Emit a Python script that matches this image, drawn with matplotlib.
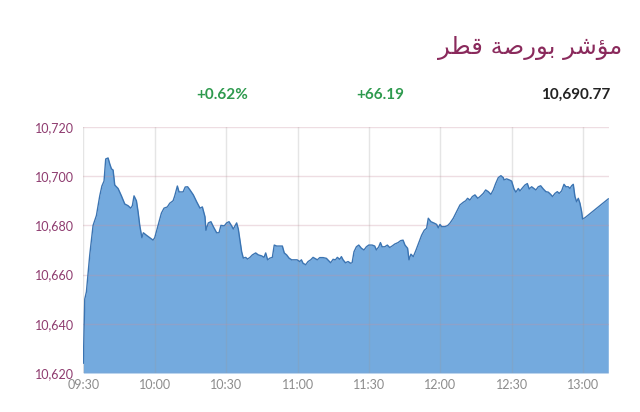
import matplotlib.pyplot as plt

# minutes since 09:30 and index level
minutes = [0, 0.6, 1.3, 2.7, 4.1, 5.5, 6.9, 7.8, 8.7, 9.4, 10.4, 11.1, 11.8, 12.5,
           13.2, 14.6, 16.0, 17.4, 18.8, 19.9, 20.6, 21.3, 22.3, 23.0, 23.7, 24.6,
           25.2, 26.5, 27.9, 29.3, 30.0, 31.4, 32.8, 33.9, 35.3, 36.3, 37.7, 38.4,
           39.5, 40.2, 41.9, 42.8, 43.8, 44.8, 46.2, 47.6, 49.0, 50.0, 51.1, 51.5,
           52.5, 53.6, 54.6, 56.0, 57.0, 57.8, 59.2, 60.2, 61.2, 62.3, 63.0, 63.7,
           64.4, 65.1, 66.5, 67.2, 68.2, 69.0, 70.0, 71.0, 72.4, 73.5, 74.9, 75.9,
           76.6, 77.4, 78.4, 79.4, 80.2, 81.2, 82.6, 83.6, 84.4, 85.4, 86.4, 87.5,
           88.6, 89.8, 90.9, 91.6, 92.3, 93.4, 94.4, 95.5, 96.5, 97.2, 98.3, 99.3,
           100.7, 102.1, 103.1, 103.9, 104.9, 105.9, 106.7, 107.7, 108.4, 109.1,
           110.1, 111.2, 112.3, 112.9, 113.7, 114.7, 115.7, 116.8, 117.9, 118.9,
           119.9, 121.3, 122.4, 123.1, 124.1, 124.8, 125.5, 126.6, 127.7, 128.7,
           129.7, 130.8, 132.2, 133.3, 134.3, 135.1, 136.2, 136.8, 137.6, 138.6,
           139.6, 140.8, 142.1, 143.2, 144.2, 144.9, 146.0, 147.4, 148.4, 149.1,
           149.8, 150.5, 151.9, 153.0, 154.0, 155.4, 156.8, 158.2, 159.6, 160.6,
           161.4, 162.4, 163.4, 164.5, 165.7, 166.6, 168.0, 169.0, 170.1, 171.2,
           172.2, 173.2, 174.3, 175.4, 176.4, 176.7, 177.8, 178.9, 179.9, 180.9,
           181.7, 182.7, 183.4, 184.5, 185.5, 186.5, 187.3, 188.3, 189.3, 190.1,
           191.1, 192.1, 193.2, 194.3, 195.3, 196.3, 197.1, 198.1, 199.1, 199.9,
           200.9, 201.9, 202.7, 203.7, 204.4, 205.1, 205.8, 206.5, 207.2, 207.9,
           208.6, 209.3, 209.7, 210.7, 220.5]
values = [10624, 10650, 10653, 10668, 10680, 10684, 10692, 10696, 10698, 10707,
          10707.4, 10705, 10703, 10702.5, 10696.4, 10695, 10692, 10688.7, 10688,
          10687, 10688, 10692, 10690, 10685.5, 10680, 10675, 10677, 10676, 10675,
          10674, 10675, 10680, 10685, 10687, 10687.5, 10689, 10690, 10692, 10696,
          10693.6, 10693.6, 10695.6, 10695.7, 10694.4, 10692.4, 10689.6, 10687,
          10687.5, 10683.5, 10678, 10681, 10681.5, 10679.5, 10677, 10677, 10680,
          10679.8, 10681, 10681.5, 10679.8, 10678.5, 10679.8, 10681, 10678.5,
          10669.3, 10666.7, 10667, 10666.3, 10667, 10668, 10668.8, 10668, 10667.6,
          10667, 10668.8, 10666, 10666.7, 10667, 10672, 10671.6, 10671.6, 10671.6,
          10668.8, 10668, 10666.7, 10666, 10666, 10666, 10665.3, 10666, 10664.6,
          10664, 10665.3, 10666, 10667, 10666.6, 10666, 10666.9, 10666.9, 10666.6,
          10665.6, 10664.8, 10666.2, 10666, 10667, 10666.2, 10667.3, 10666,
          10664.8, 10665.3, 10664.6, 10664.8, 10669.3, 10671.3, 10672, 10670.7,
          10670, 10671.3, 10672, 10672, 10671.6, 10670, 10671.3, 10673, 10671.3,
          10671.3, 10672, 10671, 10671.6, 10672.4, 10673, 10673.8, 10674, 10672,
          10670.7, 10666, 10668.3, 10667.3, 10669.6, 10672.7, 10676, 10678,
          10678.8, 10682.9, 10681.5, 10680.9, 10680.4, 10679, 10680.4, 10679.5,
          10679.5, 10679.9, 10680.9, 10682.9, 10685.6, 10688.3, 10689.4, 10690,
          10691, 10690.3, 10691.7, 10692.4, 10691, 10691.7, 10693, 10694.4,
          10693.7, 10692.6, 10694.4, 10697, 10699.4, 10700.2, 10699.4, 10698.5,
          10698.9, 10698.5, 10698, 10694.8, 10693.5, 10695, 10694, 10695.3,
          10696.4, 10697, 10694.8, 10695.7, 10695, 10694.4, 10695.7, 10696.1,
          10694.8, 10693.7, 10693.5, 10692.6, 10691.7, 10693, 10693.7, 10693,
          10694, 10696.7, 10695.7, 10695.7, 10695, 10696.1, 10696.7, 10691.7,
          10689.6, 10691, 10689, 10685.6, 10682.6, 10683.1, 10690.77]

y_ticks = [10620, 10640, 10660, 10680, 10700, 10720]
x_ticks = [0, 30, 60, 90, 120, 150, 180, 210]
x_labels = ['09:30', '10:00', '10:30', '11:00', '11:30', '12:00', '12:30', '13:00']

# "مؤشر بورصة قطر" in presentation forms, visual order (no shaping in matplotlib)
title = '\uFEAE\uFEC4\uFED7 \uFE94\uFEBB\uFEAD\uFEEE\uFE91 \uFEAE\uFEB7\uFE86\uFEE3'
change_pct = '+0.62%'
change_pts = '+66.19'
last_value = '10,690.77'

plt.rcParams['font.family'] = ['Lato', 'DejaVu Sans']

fig = plt.figure(figsize=(6.4, 4.12), dpi=100)
ax = fig.add_axes([0.1302, 0.0947, 0.8221, 0.5971])

ax.fill_between(minutes, values, 10620, color='#74aade', lw=0, zorder=1)
ax.plot(minutes, values, color='#3b74b2', lw=1, zorder=3)

ax.set_xlim(0, 221)
ax.set_ylim(10620, 10720)
ax.set_xticks(x_ticks)
ax.set_xticklabels(x_labels)
ax.set_yticks(y_ticks)
ax.set_yticklabels([f'{v:,}' for v in y_ticks])

ax.grid(axis='y', color='#c9909f', alpha=0.3, lw=1, zorder=2)
ax.grid(axis='x', color='#9a9a9a', alpha=0.25, lw=1, zorder=2)
ax.set_axisbelow(False)
for s in ax.spines.values():
    s.set_visible(False)

ax.tick_params(axis='y', length=0, pad=7, labelsize=9, labelcolor='#8e3b6f')
ax.tick_params(axis='x', length=0, pad=4, labelsize=9, labelcolor='#8c8c8c')

fig.text(0.972, 1 - 48 / 412, title, ha='right', va='center', fontsize=17.5,
         color='#8a2a5c', family='DejaVu Sans')
fig.text(0.347, 1 - 95 / 412, change_pct, ha='center', va='center', fontsize=11,
         color='#2e9a4e', fontweight='bold')
fig.text(0.594, 1 - 95 / 412, change_pts, ha='center', va='center', fontsize=11,
         color='#2e9a4e', fontweight='bold')
fig.text(0.953, 1 - 95 / 412, last_value, ha='right', va='center', fontsize=11,
         color='#222222', fontweight='bold')

fig.savefig('out.png', dpi=100)
